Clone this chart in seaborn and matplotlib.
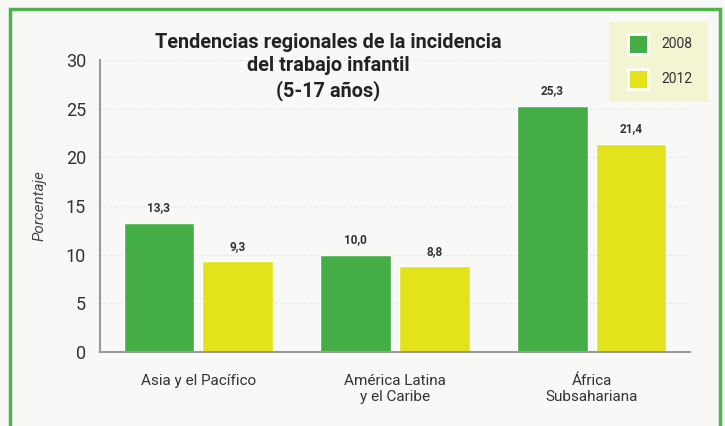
import pandas as pd
import seaborn as sns
import matplotlib.pyplot as plt
from matplotlib.patches import Rectangle

# datos
regiones = ['Asia y el Pacífico', 'América Latina\ny el Caribe', 'África\nSubsahariana']
v2008 = [13.3, 10.0, 25.3]
v2012 = [9.3, 8.8, 21.4]
anios = ['2008', '2012']
colores = ['#45ad45', '#e3e31b']

df = pd.DataFrame({
    'Región': regiones * 2,
    'Año': [anios[0]] * 3 + [anios[1]] * 3,
    'Valor': v2008 + v2012,
})

sns.set_style('white')
plt.rcParams['font.family'] = ['Roboto', 'DejaVu Sans']

fig = plt.figure(figsize=(7.25, 4.26), dpi=100)
fig.patch.set_facecolor('#f8f9f6')
# marco verde
fig.patches.append(Rectangle((10 / 725, -0.05), 710 / 725, 1 - 9 / 426 + 0.05,
                             transform=fig.transFigure, fill=False,
                             edgecolor='#4db34d', linewidth=2.5))

ax = fig.add_axes([100 / 725, 1 - 352 / 426, 590 / 725, 292 / 426])
ax.set_facecolor('#f8f9f6')
sns.barplot(data=df, x='Región', y='Valor', hue='Año', palette=colores,
            width=0.8, gap=0.1, saturation=1, ax=ax, legend=False)

ax.set_ylim(0, 30)
ax.set_yticks(range(0, 31, 5))
ax.yaxis.grid(True, linestyle=(0, (1, 2)), color='#dcdcdc', linewidth=0.8)
ax.set_axisbelow(True)
for s in ['top', 'right']:
    ax.spines[s].set_visible(False)
for s in ['left', 'bottom']:
    ax.spines[s].set_color('#9a9a9a')
    ax.spines[s].set_linewidth(1.5)
ax.tick_params(axis='y', length=0, labelsize=13, colors='#333333', pad=10)
ax.tick_params(axis='x', length=0, labelsize=11, colors='#333333', pad=16)
ax.set_xlabel('')
ax.set_ylabel('Porcentaje', fontsize=11, style='italic', color='#444444', labelpad=14)

for cont in ax.containers:
    ax.bar_label(cont, labels=[f'{v:.1f}'.replace('.', ',') for v in cont.datavalues],
                 padding=6, fontsize=8.5, fontweight='bold', color='#333333')

fig.text(328 / 725, 1 - 67 / 426, 'Tendencias regionales de la incidencia\ndel trabajo infantil\n(5-17 años)',
         ha='center', va='center', fontsize=14.3, fontweight='bold', color='#222222',
         linespacing=1.3)

# leyenda
lax = fig.add_axes([609 / 725, 1 - 102 / 426, 99 / 725, 80 / 426])
lax.set_facecolor('#f3f5d2')
lax.set_xlim(0, 99)
lax.set_ylim(80, 0)
lax.set_xticks([])
lax.set_yticks([])
for s in lax.spines.values():
    s.set_visible(False)
for i, (a, c) in enumerate(zip(anios, colores)):
    y = 22 + i * 35
    lax.add_patch(Rectangle((19, y - 10), 20, 20, facecolor=c, edgecolor='white', linewidth=2))
    lax.text(52, y, a, va='center', fontsize=10, color='#333333')

fig.savefig('out.png', dpi=100, facecolor=fig.get_facecolor())
